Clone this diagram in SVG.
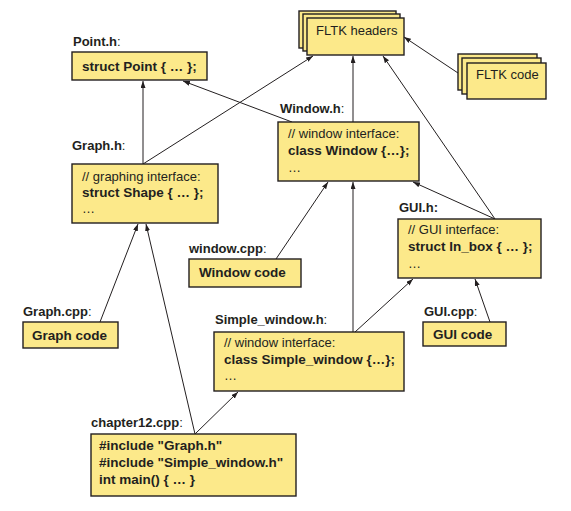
<svg xmlns="http://www.w3.org/2000/svg" width="571" height="511" viewBox="0 0 571 511">
<style>
.box{fill:#FCE98A;stroke:#231F20;stroke-width:1.4}
text{font-family:"Liberation Sans",Arial,sans-serif;font-size:13px;fill:#231F20}
.b{font-weight:bold;font-size:13.5px}
.lbl{font-weight:bold}
.c{font-weight:normal}
.conn line{stroke:#231F20;stroke-width:1}
</style>
<defs>
<marker id="arr" markerUnits="userSpaceOnUse" markerWidth="8" markerHeight="6" refX="7" refY="2.5" orient="auto">
<path d="M0,0 L7,2.5 L0,5 z" fill="#231F20"/>
</marker>
</defs>
<rect width="571" height="511" fill="#fff"/>
<g id="connectors" class="conn">
<line x1="143" y1="164" x2="143" y2="81" marker-end="url(#arr)"/>
<line x1="143" y1="164" x2="313" y2="56" marker-end="url(#arr)"/>
<line x1="292" y1="122" x2="183" y2="81" marker-end="url(#arr)"/>
<line x1="353" y1="122" x2="353" y2="56" marker-end="url(#arr)"/>
<line x1="495" y1="219" x2="383" y2="56" marker-end="url(#arr)"/>
<line x1="458" y1="73" x2="404" y2="37" marker-end="url(#arr)"/>
<line x1="276" y1="259" x2="328" y2="182" marker-end="url(#arr)"/>
<line x1="353" y1="332" x2="353" y2="182" marker-end="url(#arr)"/>
<line x1="355" y1="332" x2="413" y2="279" marker-end="url(#arr)"/>
<line x1="490" y1="322" x2="475" y2="279" marker-end="url(#arr)"/>
<line x1="100" y1="322" x2="138" y2="224" marker-end="url(#arr)"/>
<line x1="195" y1="434" x2="146" y2="224" marker-end="url(#arr)"/>
<line x1="195" y1="434" x2="238" y2="392" marker-end="url(#arr)"/>
<line x1="495" y1="219" x2="413" y2="182" marker-end="url(#arr)"/>
</g>
<g id="fltk_headers">
<rect class="box" x="299" y="11" width="97" height="37"/>
<rect class="box" x="303" y="14" width="97" height="37"/>
<rect class="box" x="307" y="18" width="97" height="37"/>
<text x="316" y="35">FLTK headers</text>
</g>
<g id="fltk_code">
<rect class="box" x="458" y="54" width="79" height="36"/>
<rect class="box" x="462" y="58" width="79" height="36"/>
<rect class="box" x="467" y="63" width="79" height="36"/>
<text x="476" y="79">FLTK code</text>
</g>
<g id="point_h">
<text class="lbl" x="73" y="46">Point.h<tspan class="c">:</tspan></text>
<rect class="box" x="72" y="52" width="135" height="28"/>
<text class="b" x="82" y="71">struct Point { … };</text>
</g>
<g id="graph_h">
<text class="lbl" x="72" y="150">Graph.h<tspan class="c">:</tspan></text>
<rect class="box" x="72" y="164" width="146" height="59"/>
<text x="82" y="181">// graphing interface:</text>
<text class="b" x="82" y="197">struct Shape { … };</text>
<text x="82" y="213">…</text>
</g>
<g id="window_h">
<text class="lbl" x="280" y="113">Window.h<tspan class="c">:</tspan></text>
<rect class="box" x="278" y="122" width="141" height="59"/>
<text x="288" y="138">// window interface:</text>
<text class="b" x="288" y="155">class Window {…};</text>
<text x="288" y="172">…</text>
</g>
<g id="gui_h">
<text class="lbl" x="399" y="212">GUI.h:</text>
<rect class="box" x="398" y="219" width="143" height="59"/>
<text x="408" y="234">// GUI interface:</text>
<text class="b" x="408" y="251">struct In_box { … };</text>
<text x="408" y="268">…</text>
</g>
<g id="window_cpp">
<text class="lbl" x="189" y="253">window.cpp<tspan class="c">:</tspan></text>
<rect class="box" x="189" y="259" width="112" height="28"/>
<text class="b" x="199" y="277">Window code</text>
</g>
<g id="gui_cpp">
<text class="lbl" x="424" y="316">GUI.cpp<tspan class="c">:</tspan></text>
<rect class="box" x="423" y="322" width="83" height="24"/>
<text class="b" x="433" y="339">GUI code</text>
</g>
<g id="graph_cpp">
<text class="lbl" x="23" y="316">Graph.cpp<tspan class="c">:</tspan></text>
<rect class="box" x="23" y="322" width="95" height="26"/>
<text class="b" x="32" y="340">Graph code</text>
</g>
<g id="simple_window_h">
<text class="lbl" x="215" y="324">Simple_window.h<tspan class="c">:</tspan></text>
<rect class="box" x="214" y="332" width="190" height="59"/>
<text x="224" y="347">// window interface:</text>
<text class="b" x="224" y="364">class Simple_window {…};</text>
<text x="224" y="380">…</text>
</g>
<g id="chapter12_cpp">
<text class="lbl" x="91" y="427">chapter12.cpp<tspan class="c">:</tspan></text>
<rect class="box" x="91" y="434" width="205" height="62"/>
<text class="b" x="99" y="450">#include "Graph.h"</text>
<text class="b" x="99" y="467">#include "Simple_window.h"</text>
<text class="b" x="99" y="484">int main() { … }</text>
</g>
</svg>
